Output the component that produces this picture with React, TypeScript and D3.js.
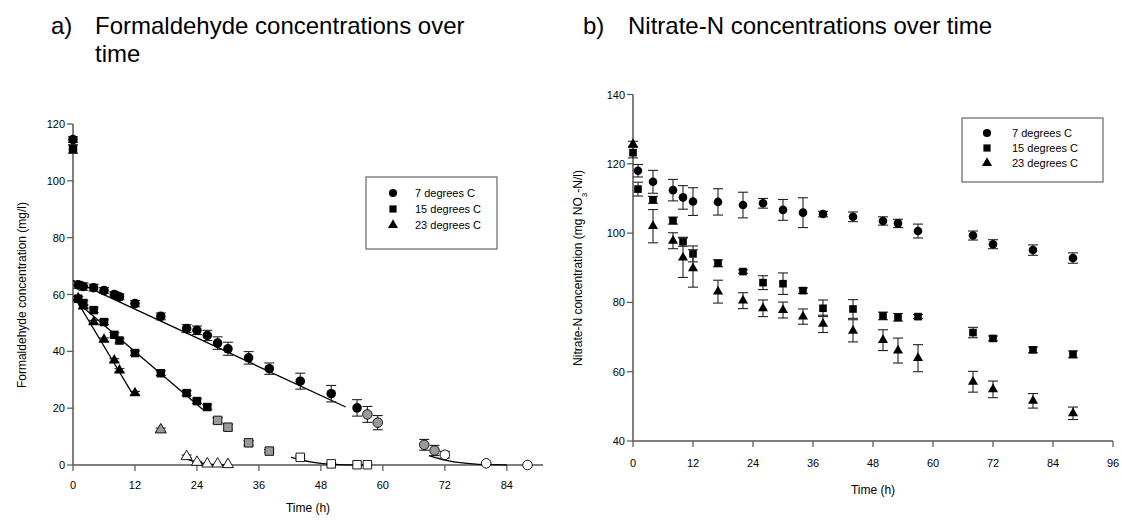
import React from "react";
import * as d3 from "d3";

// ---------- Panel a: formaldehyde (mg/l) ----------
const fa7BlackT = [0, 1, 2, 4, 6, 8, 9, 12, 17, 22, 24, 26, 28, 30, 34, 38, 44, 50, 55];
const fa7BlackV = [114.5, 63.4, 62.8, 62.4, 61.4, 60, 59.2, 56.8, 52.3, 48, 47.4, 45.6, 42.9, 40.9, 37.7, 33.9, 29.5, 25.1, 20.1];
const fa7BlackE = [1, 1.2, 1.3, 1.2, 1, 1, 1, 1.1, 1.2, 1.4, 1.5, 1.8, 2.2, 2.3, 2.2, 2, 2.8, 2.9, 2.9];
const fa7GrayT = [57, 59, 68, 70];
const fa7GrayV = [17.8, 14.9, 7.1, 5.1];
const fa7GrayE = [2.8, 2.5, 1.9, 1.8];
const fa7WhiteT = [72, 80, 88];
const fa7WhiteV = [3.6, 0.6, 0];
const fa7WhiteE = [1.2, 0.3, 0];

const fa15BlackT = [0, 1, 2, 4, 6, 8, 9, 12, 17, 22, 24, 26];
const fa15BlackV = [111.2, 58.5, 57, 54.5, 50.3, 45.8, 43.8, 39.4, 32.3, 25.3, 22.5, 20.4];
const fa15BlackE = [1.5, 0.8, 0.8, 0.8, 0.8, 0.8, 0.8, 0.8, 0.8, 0.8, 0.8, 0.8];
const fa15GrayT = [28, 30, 34, 38];
const fa15GrayV = [15.7, 13.3, 7.8, 4.9];
const fa15GrayE = [1, 1, 0.8, 0.5];
const fa15WhiteT = [44, 50, 55, 57];
const fa15WhiteV = [2.7, 0.4, 0.1, 0.1];
const fa15WhiteE = [0.5, 0.3, 0, 0];

const fa23BlackT = [1, 2, 4, 6, 8, 9, 12];
const fa23BlackV = [58.7, 55.8, 50.3, 44.1, 36.8, 33.3, 25.3];
const fa23BlackE = [0.6, 0.6, 0.6, 0.6, 0.6, 0.6, 0.6];
const fa23GrayT = [17];
const fa23GrayV = [12.4];
const fa23GrayE = [0.6];
const fa23WhiteT = [22, 24, 26, 28, 30];
const fa23WhiteV = [3, 1, 0.4, 0.4, 0.2];
const fa23WhiteE = [0.5, 0.3, 0, 0, 0];

// fitted lines / decay curves (time, value)
const fit7: [number, number][] = [[0, 65], [52.8, 20.4]];
const fit15: [number, number][] = [[0, 58.5], [25.3, 19.3]];
const fit23: [number, number][] = [[0.5, 58.5], [11.7, 24.5]];
const decay23: [number, number][] = [[21.3, 2.7], [22.5, 1.8], [24, 1.0], [26, 0.4], [28, 0.1], [30, 0]];
const decay15: [number, number][] = [[42.2, 2.7], [44, 1.9], [46, 1.1], [48, 0.6], [50, 0.3], [53, 0.05], [56.3, 0]];
const decay7: [number, number][] = [[68.9, 3.3], [71, 2.2], [73, 1.4], [75, 0.8], [78, 0.3], [81, 0.1], [84, 0]];

// ---------- Panel b: nitrate-N ----------
const nb7T = [1, 4, 8, 10, 12, 17, 22, 26, 30, 34, 38, 44, 50, 53, 57, 68, 72, 80, 88];
const nb7V = [118, 114.8, 112.4, 110.3, 109.1, 109, 108.1, 108.6, 106.7, 105.9, 105.5, 104.7, 103.5, 102.8, 100.6, 99.3, 96.8, 95.1, 92.8];
const nb7E = [1.8, 3.3, 3.1, 3.4, 4, 3.8, 3.7, 1.4, 3, 4.3, 0.8, 1.4, 1.2, 1.2, 2, 1.3, 1.3, 1.5, 1.5];
const nb15T = [0, 1, 4, 8, 10, 12, 17, 22, 26, 30, 34, 38, 44, 50, 53, 57, 68, 72, 80, 88];
const nb15V = [123.2, 112.7, 109.6, 103.6, 97.5, 94, 91.3, 88.9, 85.7, 85.4, 83.4, 78.3, 78.1, 76.1, 75.7, 75.9, 71.3, 69.6, 66.3, 65];
const nb15E = [1.5, 2, 1, 1, 1.3, 2.3, 1, 0.5, 2, 3.1, 0.8, 2.4, 2.7, 1.1, 1.1, 0.6, 1.5, 0.7, 0.8, 1];
const nb23T = [0, 4, 8, 10, 12, 17, 22, 26, 30, 34, 38, 44, 50, 53, 57, 68, 72, 80, 88];
const nb23V = [125.7, 102, 97.8, 92.9, 89.8, 83.1, 80.5, 78.3, 77.8, 75.9, 73.8, 71.8, 69.1, 66.1, 63.9, 57.1, 54.9, 51.6, 48];
const nb23E = [0.8, 4.8, 2.3, 5.7, 5.4, 3.3, 2.3, 2.4, 2.3, 2.2, 2.5, 3.2, 3, 3.6, 3.9, 3, 2.4, 2.1, 1.8];

const xTicksA = [0, 12, 24, 36, 48, 60, 72, 84];
const yTicksA = [0, 20, 40, 60, 80, 100, 120];
const xTicksB = [0, 12, 24, 36, 48, 60, 72, 84, 96];
const yTicksB = [40, 60, 80, 100, 120, 140];
const legendLabels = ["7 degrees C", "15 degrees C", "23 degrees C"];

const FONT = "'Liberation Sans', Arial, sans-serif";
const AXIS = "#555";

type Shape = "circle" | "square" | "triangle";

function symPath(shape: Shape, size: number) {
  const t = shape === "circle" ? d3.symbolCircle : shape === "square" ? d3.symbolSquare : d3.symbolTriangle;
  return d3.symbol().type(t).size(size)() as string;
}

function Series({ t, v, e, x, y, shape, fill, size, cap }: any) {
  const path = symPath(shape, size);
  return (
    <g>
      {t.map((ti: number, i: number) => {
        const cx = x(ti);
        const ey1 = y(v[i] + e[i]);
        const ey2 = y(v[i] - e[i]);
        return (
          <g key={"e" + i}>
            {e[i] > 0 && (
              <g stroke="#222" strokeWidth={1.1}>
                <line x1={cx} x2={cx} y1={ey1} y2={ey2} />
                <line x1={cx - cap} x2={cx + cap} y1={ey1} y2={ey1} />
                <line x1={cx - cap} x2={cx + cap} y1={ey2} y2={ey2} />
              </g>
            )}
          </g>
        );
      })}
      {t.map((ti: number, i: number) => (
        <path
          key={"m" + i}
          d={path}
          transform={`translate(${x(ti)},${y(v[i])})`}
          fill={fill}
          stroke="#000"
          strokeWidth={fill === "#000" ? 0 : 0.9}
        />
      ))}
    </g>
  );
}

function Axes({ x, y, xTicks, yTicks, x0, x1, y0, y1, xLabelY }: any) {
  return (
    <g fontFamily={FONT} fontSize={11} fill="#000">
      <line x1={x0} x2={x1} y1={y0} y2={y0} stroke={AXIS} strokeWidth={1.5} />
      <line x1={x0} x2={x0} y1={y0} y2={y1} stroke={AXIS} strokeWidth={1.5} />
      {xTicks.map((tk: number) => (
        <g key={"x" + tk}>
          <line x1={x(tk)} x2={x(tk)} y1={y0} y2={y0 + 6} stroke={AXIS} strokeWidth={1.2} />
          <text x={x(tk)} y={xLabelY} textAnchor="middle">{tk}</text>
        </g>
      ))}
      {yTicks.map((tk: number) => (
        <g key={"y" + tk}>
          <line x1={x0 - 6} x2={x0} y1={y(tk)} y2={y(tk)} stroke={AXIS} strokeWidth={1.2} />
          <text x={x0 - 8} y={y(tk) + 4} textAnchor="end">{tk}</text>
        </g>
      ))}
    </g>
  );
}

function Legend({ bx, by, bw, bh, sx, tx, rows, sizes }: any) {
  const shapes: Shape[] = ["circle", "square", "triangle"];
  return (
    <g fontFamily={FONT} fontSize={11}>
      <rect x={bx} y={by} width={bw} height={bh} fill="#fff" stroke="#666" strokeWidth={1.2} />
      {legendLabels.map((lab, i) => (
        <g key={lab}>
          <path d={symPath(shapes[i], sizes[i])} transform={`translate(${sx},${rows[i]})`} fill="#000" />
          <text x={tx} y={rows[i] + 4}>{lab}</text>
        </g>
      ))}
    </g>
  );
}

export default function App() {
  const xa = d3.scaleLinear().domain([0, 91]).range([73, 543]);
  const ya = d3.scaleLinear().domain([0, 120]).range([465, 124]);
  const xb = d3.scaleLinear().domain([0, 96]).range([633, 1113]);
  const yb = d3.scaleLinear().domain([40, 140]).range([441, 94.5]);

  const lineA = d3.line<[number, number]>().x((d) => xa(d[0])).y((d) => ya(d[1]));
  const curveA = d3.line<[number, number]>().x((d) => xa(d[0])).y((d) => ya(d[1])).curve(d3.curveMonotoneX);

  const G = "#9a9a9a";
  const W = "#fff";
  const K = "#000";
  const szA = { circle: 72, square: 72, triangle: 52 };
  const szB = { circle: 58, square: 58, triangle: 44 };

  return (
    <svg width={1122} height={526} style={{ position: "absolute", left: 0, top: 0, background: "#fff" }}>
      <rect width={1122} height={526} fill="#fff" />
      <g fontFamily={FONT} fontSize={24} fill="#000">
        <text x={51} y={34}>a)</text>
        <text x={95} y={34}>Formaldehyde concentrations over</text>
        <text x={95} y={62}>time</text>
        <text x={583} y={34}>b)</text>
        <text x={628} y={34}>Nitrate-N concentrations over time</text>
      </g>

      {/* ---- panel a ---- */}
      <Axes x={xa} y={ya} xTicks={xTicksA} yTicks={yTicksA} x0={73} x1={543} y0={465} y1={124} xLabelY={489} />
      <g fill="none" stroke="#000" strokeWidth={1.3}>
        <path d={lineA(fit7) as string} />
        <path d={lineA(fit15) as string} />
        <path d={lineA(fit23) as string} />
        <path d={curveA(decay23) as string} />
        <path d={curveA(decay15) as string} />
        <path d={curveA(decay7) as string} />
      </g>
      <Series t={fa23BlackT} v={fa23BlackV} e={fa23BlackE} x={xa} y={ya} shape="triangle" fill={K} size={szA.triangle} cap={5} />
      <Series t={fa23GrayT} v={fa23GrayV} e={fa23GrayE} x={xa} y={ya} shape="triangle" fill={G} size={szA.triangle} cap={5} />
      <Series t={fa23WhiteT} v={fa23WhiteV} e={fa23WhiteE} x={xa} y={ya} shape="triangle" fill={W} size={szA.triangle} cap={5} />
      <Series t={fa15BlackT} v={fa15BlackV} e={fa15BlackE} x={xa} y={ya} shape="square" fill={K} size={szA.square} cap={5} />
      <Series t={fa15GrayT} v={fa15GrayV} e={fa15GrayE} x={xa} y={ya} shape="square" fill={G} size={szA.square} cap={5} />
      <Series t={fa15WhiteT} v={fa15WhiteV} e={fa15WhiteE} x={xa} y={ya} shape="square" fill={W} size={szA.square} cap={5} />
      <Series t={fa7BlackT} v={fa7BlackV} e={fa7BlackE} x={xa} y={ya} shape="circle" fill={K} size={szA.circle} cap={5} />
      <Series t={fa7GrayT} v={fa7GrayV} e={fa7GrayE} x={xa} y={ya} shape="circle" fill={G} size={szA.circle} cap={5} />
      <Series t={fa7WhiteT} v={fa7WhiteV} e={fa7WhiteE} x={xa} y={ya} shape="circle" fill={W} size={szA.circle} cap={5} />
      <Legend bx={366} by={177} bw={131} bh={72} sx={393} tx={415} rows={[193, 209, 225]} sizes={[52, 52, 44]} />
      <text x={308} y={512} fontFamily={FONT} fontSize={12} textAnchor="middle">Time (h)</text>
      <text transform="translate(26,295) rotate(-90)" fontFamily={FONT} fontSize={12} textAnchor="middle">
        Formaldehyde concentration (mg/l)
      </text>

      {/* ---- panel b ---- */}
      <Axes x={xb} y={yb} xTicks={xTicksB} yTicks={yTicksB} x0={633} x1={1113} y0={441} y1={94.5} xLabelY={467} />
      <Series t={nb7T} v={nb7V} e={nb7E} x={xb} y={yb} shape="circle" fill={K} size={szB.circle} cap={5} />
      <Series t={nb15T} v={nb15V} e={nb15E} x={xb} y={yb} shape="square" fill={K} size={szB.square} cap={5} />
      <Series t={nb23T} v={nb23V} e={nb23E} x={xb} y={yb} shape="triangle" fill={K} size={szB.triangle} cap={5} />
      <Legend bx={962} by={118} bw={141} bh={64} sx={987} tx={1012} rows={[133, 148, 163]} sizes={[52, 52, 44]} />
      <text x={873} y={494} fontFamily={FONT} fontSize={12} textAnchor="middle">Time (h)</text>
      <text transform="translate(582,268) rotate(-90)" fontFamily={FONT} fontSize={12} textAnchor="middle">
        Nitrate-N concentration (mg NO
        <tspan baselineShift="sub" fontSize={8}>3</tspan>
        -N/l)
      </text>
    </svg>
  );
}
